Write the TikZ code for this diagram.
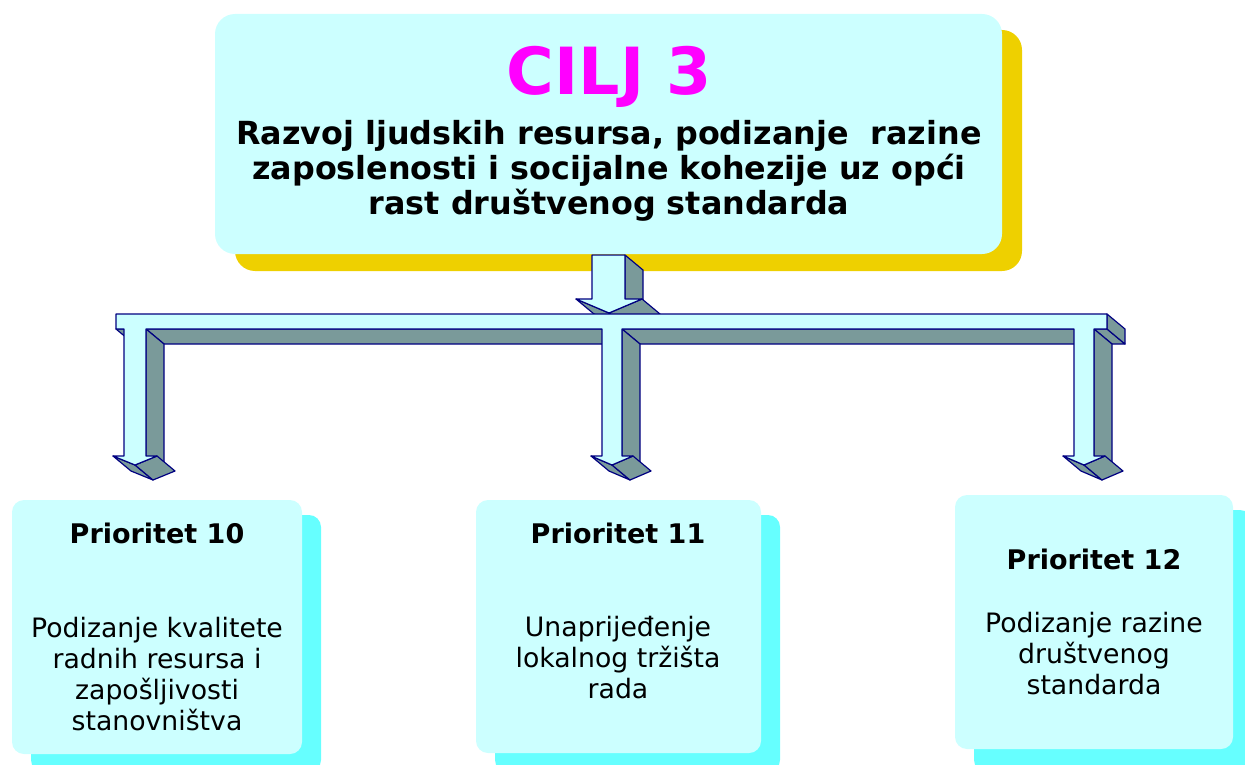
\documentclass[tikz,border=0pt]{standalone}
\usepackage{fontspec}
\setmainfont{DejaVu Sans}
\usetikzlibrary{calc}
\definecolor{boxcyan}{HTML}{CCFFFF}
\definecolor{shadowcyan}{HTML}{66FFFF}
\definecolor{shadowyellow}{HTML}{EED000}
\definecolor{armdark}{HTML}{7A9A9A}
\definecolor{armline}{HTML}{000080}
\definecolor{titlemag}{HTML}{FF00FF}
\tikzset{
  face/.style={fill=armdark, draw=armline, line width=1.2pt, line join=round},
  frontface/.style={fill=boxcyan, draw=armline, line width=1.2pt, line join=round},
  mainbox/.style={fill=boxcyan, rounded corners=20pt, minimum width=787pt, minimum height=240pt, inner sep=0pt},
  prbox/.style={fill=boxcyan, rounded corners=12pt, inner sep=0pt},
  prshadow/.style={fill=shadowcyan, rounded corners=12pt},
  ciljtext/.style={font=\bfseries\fontsize{65}{65}\selectfont, text=titlemag, anchor=base, inner sep=0pt},
  maintext/.style={font=\bfseries\fontsize{31.8}{35}\selectfont, align=center, anchor=north, inner sep=0pt},
  prtitle/.style={font=\bfseries\fontsize{27}{31}\selectfont, anchor=base, inner sep=0pt},
  prtext/.style={font=\fontsize{26.7}{31}\selectfont, align=center, anchor=north, inner sep=0pt},
}
\newcommand\sidequad[2]{\path[face] (#1) -- (#2) -- ($(#2)+(18,15)$) -- ($(#1)+(18,15)$) -- cycle;}
\begin{document}
\begin{tikzpicture}[x=1pt,y=-1pt]
\useasboundingbox (0,0) rectangle (1245,765);
% yellow shadow of main box
\fill[shadowyellow, rounded corners=20pt] (235,30) rectangle (1022,271);
% top arrow
\sidequad{625,255}{625,299}
\sidequad{576,299}{609,313}
\sidequad{609,313}{642,299}
\path[frontface] (592,255) -- (592,299) -- (576,299) -- (609,313) -- (642,299) -- (625,299) -- (625,255) -- cycle;
% main box
\node[mainbox] (main) at (608.5,134) {};
\node[ciljtext] (cilj) at (609.5,95) {CILJ 3};
\node[maintext] (goal) at (609,120) {Razvoj ljudskih resursa, podizanje~ razine\\zaposlenosti i socijalne kohezije uz opći\\rast društvenog standarda};
% distribution bar: bottom faces
\sidequad{116,329}{124,329}
\sidequad{146,329}{602,329}
\sidequad{622,329}{1074,329}
\sidequad{1094,329}{1107,329}
% shaft right faces
\sidequad{146,329}{146,456}
\sidequad{622,329}{622,456}
\sidequad{1094,329}{1094,456}
% head faces
\sidequad{113,456}{135,465}
\sidequad{135,465}{157,456}
\sidequad{591,456}{612,465}
\sidequad{612,465}{633,456}
\sidequad{1063,456}{1084,465}
\sidequad{1084,465}{1105,456}
% bar right end
\sidequad{1107,314}{1107,329}
% front face
\path[frontface] (116,314) -- (1107,314) -- (1107,329) -- (1094,329) -- (1094,456) -- (1105,456) -- (1084,465) -- (1063,456) -- (1074,456) -- (1074,329)
  -- (622,329) -- (622,456) -- (633,456) -- (612,465) -- (591,456) -- (602,456) -- (602,329)
  -- (146,329) -- (146,456) -- (157,456) -- (135,465) -- (113,456) -- (124,456) -- (124,329) -- (116,329) -- cycle;
% priority boxes
\fill[prshadow] (31,515) rectangle (321,772);
\fill[prshadow] (495,515) rectangle (780,772);
\fill[prshadow] (974,510) rectangle (1252,772);
\path[prbox] (12,500) rectangle (302,754);
\path[prbox] (476,500) rectangle (761,753);
\path[prbox] (955,495) rectangle (1233,749);
\node[prtitle] (p10) at (157,543) {Prioritet 10};
\node[prtext] (t10) at (157,617) {Podizanje kvalitete\\radnih resursa i\\zapošljivosti\\stanovništva};
\node[prtitle] (p11) at (618,543) {Prioritet 11};
\node[prtext] (t11) at (618,616) {Unaprijeđenje\\lokalnog tržišta\\rada};
\node[prtitle] (p12) at (1094,569) {Prioritet 12};
\node[prtext] (t12) at (1094,612) {Podizanje razine\\društvenog\\standarda};
\end{tikzpicture}
\end{document}
